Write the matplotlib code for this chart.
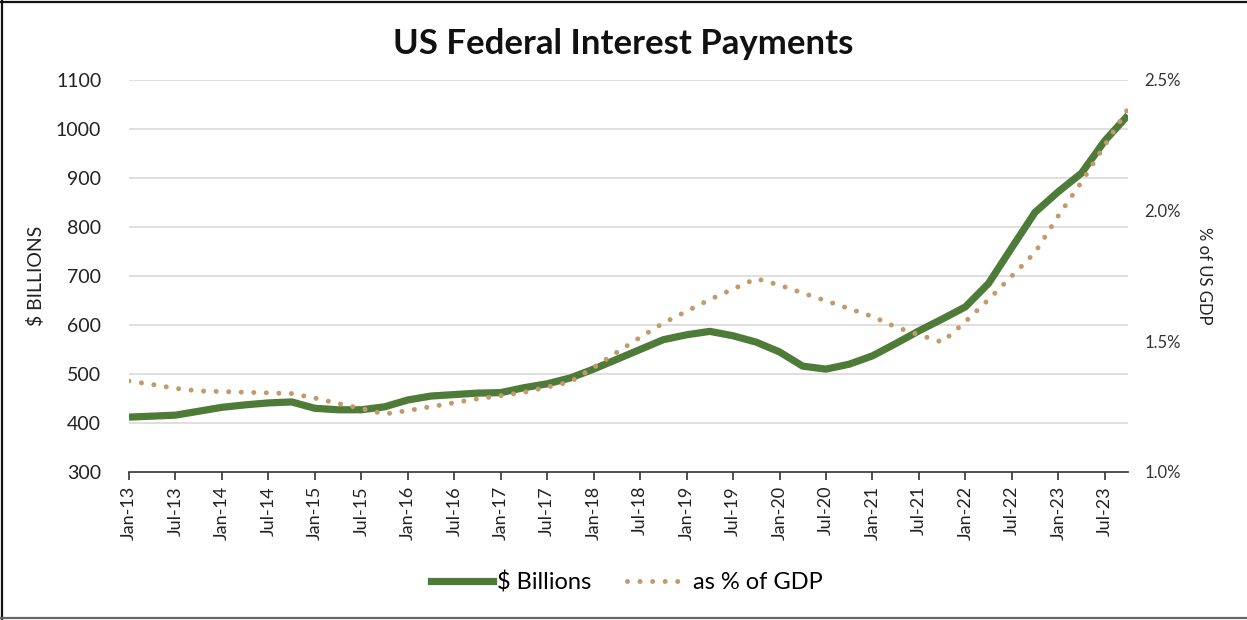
import matplotlib
matplotlib.use("Agg")
import matplotlib.pyplot as plt
from matplotlib.lines import Line2D

plt.rcParams['font.family'] = ['Lato', 'DejaVu Sans']

# Quarterly periods Jan-13 .. Oct-23
periods = [f"{m}-{y:02d}" for y in range(13, 24) for m in ("Jan", "Apr", "Jul", "Oct")]

billions = [412, 414, 416, 424, 432, 437, 441, 443,
            430, 427, 427, 433, 447, 455, 458, 461,
            462, 472, 480, 492, 510, 530, 550, 570,
            580, 587, 578, 565, 545, 516, 510, 520,
            537, 562, 588, 612, 637, 685, 758, 830,
            872, 910, 976, 1028]

pct_gdp = [1.348, 1.335, 1.320, 1.310, 1.308, 1.305, 1.303, 1.300,
           1.283, 1.262, 1.243, 1.222, 1.235, 1.250, 1.265, 1.280,
           1.292, 1.305, 1.325, 1.345, 1.400, 1.458, 1.515, 1.570,
           1.615, 1.660, 1.700, 1.740, 1.715, 1.685, 1.655, 1.625,
           1.595, 1.555, 1.525, 1.497, 1.575, 1.660, 1.750, 1.840,
           1.980, 2.110, 2.250, 2.390]

left_ticks = [300, 400, 500, 600, 700, 800, 900, 1000, 1100]
right_ticks = [1.0, 1.5, 2.0, 2.5]
right_labels = ["1.0%", "1.5%", "2.0%", "2.5%"]

title = "US Federal Interest Payments"
green = "#4E7B38"
tan = "#C49A6C"

fig = plt.figure(figsize=(12.47, 6.20), dpi=100)
W, H = 1247, 620
ax = fig.add_axes([129 / W, 1 - 472 / H, (1128 - 129) / W, (472 - 80) / H])
ax2 = ax.twinx()

x = list(range(len(periods)))
ax.plot(x, billions, color=green, lw=5.2, solid_joinstyle='round', solid_capstyle='butt', zorder=3)
ax2.plot(x, pct_gdp, color=tan, lw=3.6, linestyle=(0, (0.01, 2.5)), dash_capstyle='round', zorder=4)

ax.set_xlim(0, len(periods) - 1)
ax.set_ylim(300, 1100)
ax2.set_ylim(1.0, 2.5)
ax.set_yticks(left_ticks)
ax.set_yticklabels([str(t) for t in left_ticks], fontsize=14, color="#222222")
ax2.set_yticks(right_ticks)
ax2.set_yticklabels(right_labels, fontsize=12, color="#333333")

ax.set_xticks(x[::2])
ax.set_xticklabels(periods[::2], rotation=90, fontsize=13, color="#222222")

for t in left_ticks[1:]:
    ax.axhline(t, color="#D9D9D9", lw=1.2, zorder=1)

for a in (ax, ax2):
    for s in ("top", "right", "left"):
        a.spines[s].set_visible(False)
ax.spines["bottom"].set_color("#333333")
ax.spines["bottom"].set_linewidth(1.2)
ax2.spines["bottom"].set_visible(False)
ax.tick_params(axis='y', length=0, pad=20)
ax2.tick_params(axis='y', length=0, pad=12)
ax.tick_params(axis='x', length=6, width=1.2, color="#333333", pad=4, direction='out')
ax.set_ylabel("$ BILLIONS", fontsize=14, color="#222222", labelpad=8)
ax2.set_ylabel("% of US GDP", fontsize=12, color="#222222", rotation=270, labelpad=22)

fig.text(0.5, 1 - 44 / H, title, ha='center', va='center', fontsize=25, fontweight='bold', color="#111111")

handles = [Line2D([0], [0], color=green, lw=5.2),
           Line2D([0], [0], color=tan, lw=3.6, linestyle=(0, (0.01, 2.5)), dash_capstyle='round')]
fig.legend(handles, ["$ Billions", "as % of GDP"], loc='center', bbox_to_anchor=(627 / W, 1 - 582 / H),
           ncol=2, frameon=False, fontsize=17, handlelength=2.6, handletextpad=0.2, columnspacing=1.5)

# outer frame (left, top, bottom)
fig.add_artist(Line2D([2 / W, 2 / W], [0, 1], color="#111111", lw=1.6, transform=fig.transFigure))
fig.add_artist(Line2D([0, 1], [1 - 2 / H, 1 - 2 / H], color="#111111", lw=1.6, transform=fig.transFigure))
fig.add_artist(Line2D([0, 1], [1 - 618 / H, 1 - 618 / H], color="#666666", lw=1.6, transform=fig.transFigure))

fig.savefig("out.png", dpi=100)
